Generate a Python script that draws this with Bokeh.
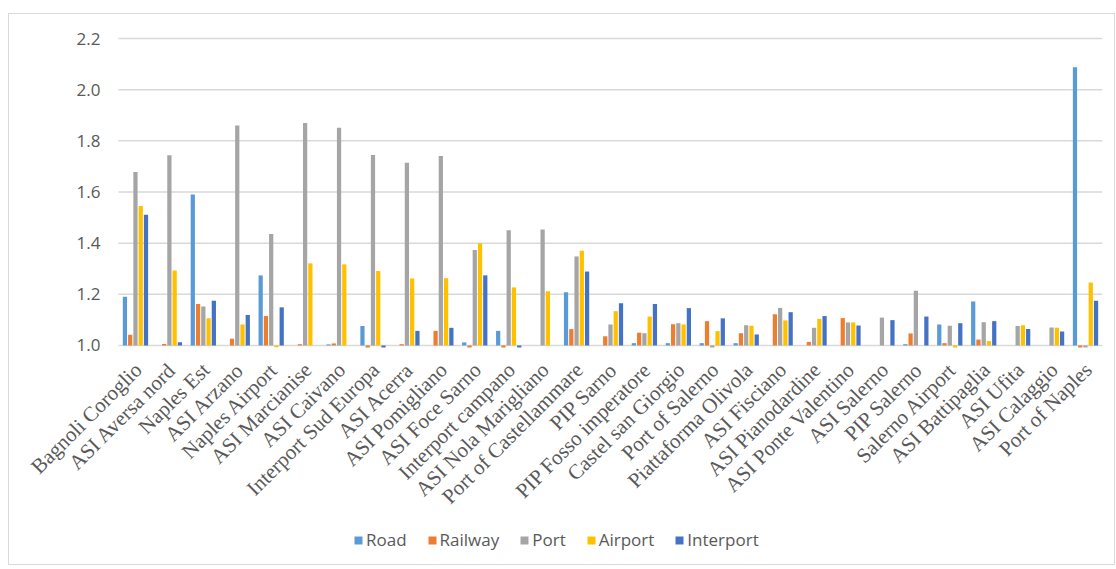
import math
from bokeh.plotting import figure
from bokeh.models import ColumnDataSource, Range1d, Legend, LegendItem
from bokeh.core.properties import value
from bokeh.transform import dodge
from bokeh.embed import file_html
from bokeh.resources import INLINE

categories = ["Bagnoli Coroglio", "ASI Aversa nord", "Naples Est", "ASI Arzano", "Naples Airport",
              "ASI Marcianise", "ASI Caivano", "Interport Sud Europa", "ASI Acerra", "ASI Pomigliano",
              "ASI Foce Sarno", "Interport campano", "ASI Nola Marigliano", "Port of Castellammare",
              "PIP Sarno", "PIP Fosso imperatore", "Castel san Giorgio", "Port of Salerno",
              "Piattaforma Olivola", "ASI Fisciano", "ASI Pianodardine", "ASI Ponte Valentino",
              "ASI Salerno", "PIP Salerno", "Salerno Airport", "ASI Battipaglia", "ASI Ufita",
              "ASI Calaggio", "Port of Naples"]

road = [1.19, 1.0, 1.59, 1.0, 1.274, 1.0, 1.004, 1.076, 1.0, 1.0,
        1.012, 1.057, 1.0, 1.208, 1.0, 1.009, 1.009, 1.009, 1.009, 1.0,
        1.0, 1.0, 1.0, 1.005, 1.082, 1.172, 1.0, 1.0, 2.088]
railway = [1.042, 1.006, 1.162, 1.026, 1.115, 1.005, 1.008, 0.992, 1.005, 1.057,
           0.992, 0.992, 1.0, 1.064, 1.036, 1.05, 1.083, 1.095, 1.048, 1.122,
           1.014, 1.107, 1.0, 1.047, 1.009, 1.023, 1.0, 1.0, 0.992]
port = [1.678, 1.744, 1.152, 1.86, 1.436, 1.87, 1.851, 1.745, 1.714, 1.741,
        1.373, 1.45, 1.453, 1.348, 1.082, 1.048, 1.087, 0.992, 1.079, 1.147,
        1.069, 1.09, 1.109, 1.214, 1.077, 1.091, 1.076, 1.07, 0.992]
airport = [1.545, 1.293, 1.106, 1.082, 0.993, 1.321, 1.317, 1.291, 1.262, 1.263,
           1.4, 1.227, 1.212, 1.37, 1.134, 1.113, 1.082, 1.056, 1.077, 1.098,
           1.104, 1.09, 1.0, 1.0, 0.992, 1.017, 1.079, 1.069, 1.246]
interport = [1.511, 1.013, 1.175, 1.119, 1.149, 1.0, 1.0, 0.992, 1.057, 1.069,
             1.274, 0.992, 1.0, 1.289, 1.165, 1.162, 1.146, 1.106, 1.043, 1.13,
             1.115, 1.078, 1.099, 1.113, 1.087, 1.095, 1.064, 1.055, 1.175]

series_names = ["Road", "Railway", "Port", "Airport", "Interport"]
series_values = [road, railway, port, airport, interport]
colors = ["#5B9BD5", "#ED7D31", "#A5A5A5", "#FFC000", "#4472C4"]
y_ticks = [1.0, 1.2, 1.4, 1.6, 1.8, 2.0, 2.2]
y_tick_labels = ["1.0", "1.2", "1.4", "1.6", "1.8", "2.0", "2.2"]

# layout constants (pixels)
N = len(categories)
PX_PER_UNIT = 255.8
PX_PER_CAT = 33.93
TOP_PAD_PX = 12
FRAME_H = 524 + TOP_PAD_PX
FRAME_W = 1082
LEFT_PAD_PX = 98          # room left of the first category for labels
Y_TOP = 2.2 + TOP_PAD_PX / PX_PER_UNIT
Y_BOTTOM = Y_TOP - FRAME_H / PX_PER_UNIT
X_START = -0.5 - LEFT_PAD_PX / PX_PER_CAT
X_END = X_START + FRAME_W / PX_PER_CAT
LABEL_Y = 1.0 - 21 / PX_PER_UNIT
YLAB_X = -0.5 - 18 / PX_PER_CAT

data = {"idx": list(range(N)), "cat": categories}
for n, v in zip(series_names, series_values):
    data[n] = v
data["base"] = [1.0] * N
data["label_y"] = [LABEL_Y] * N
source = ColumnDataSource(data)

ysrc = ColumnDataSource({"y": y_ticks, "lab": y_tick_labels,
                         "x0": [-0.5] * len(y_ticks), "x1": [N - 0.5] * len(y_ticks),
                         "xl": [YLAB_X] * len(y_ticks)})

p = figure(x_range=Range1d(X_START, X_END), y_range=Range1d(Y_BOTTOM, Y_TOP),
           frame_width=FRAME_W, frame_height=FRAME_H, output_backend="svg", toolbar_location=None,
           min_border_left=11, min_border_right=12, min_border_top=24 - TOP_PAD_PX,
           min_border_bottom=2)
p.margin = (13, 0, 0, 8)
p.styles = {"border": "1px solid #d9d9d9"}
p.outline_line_color = None
p.xaxis.visible = False
p.yaxis.visible = False
p.xgrid.grid_line_color = None
p.ygrid.grid_line_color = None

# horizontal gridlines spanning the category area
p.segment(x0="x0", x1="x1", y0="y", y1="y", source=ysrc, line_color="#d9d9d9", line_width=1.5)

# y tick labels
p.text(x="xl", y="y", text="lab", source=ysrc, text_align="right", text_baseline="middle",
       text_font=value("Open Sans"), text_font_size=value("17px"), text_color="#595959")

offsets = [-0.31, -0.155, 0.0, 0.155, 0.31]
items = []
for n, c, off in zip(series_names, colors, offsets):
    r = p.vbar(x=dodge("idx", off), top=n, bottom="base", width=0.125,
               source=source, fill_color=c, line_color=None)
    items.append(LegendItem(label=n, renderers=[r]))

# category labels (rotated, serif)
p.text(x=dodge("idx", 0.08), y="label_y", text="cat", source=source,
       angle=math.pi / 4, text_align="right", text_baseline="middle",
       text_font=value("Liberation Serif"), text_font_size=value("21px"),
       text_color="#595959")

legend = Legend(items=items, orientation="horizontal", location=(333, 11),
                label_text_font="Open Sans", label_text_font_size="17px",
                label_text_color="#595959", glyph_width=10, glyph_height=10,
                label_standoff=3, spacing=20, border_line_color=None,
                background_fill_alpha=0, margin=0, padding=4)
p.add_layout(legend)

open("out.html", "w").write(file_html(p, INLINE))
